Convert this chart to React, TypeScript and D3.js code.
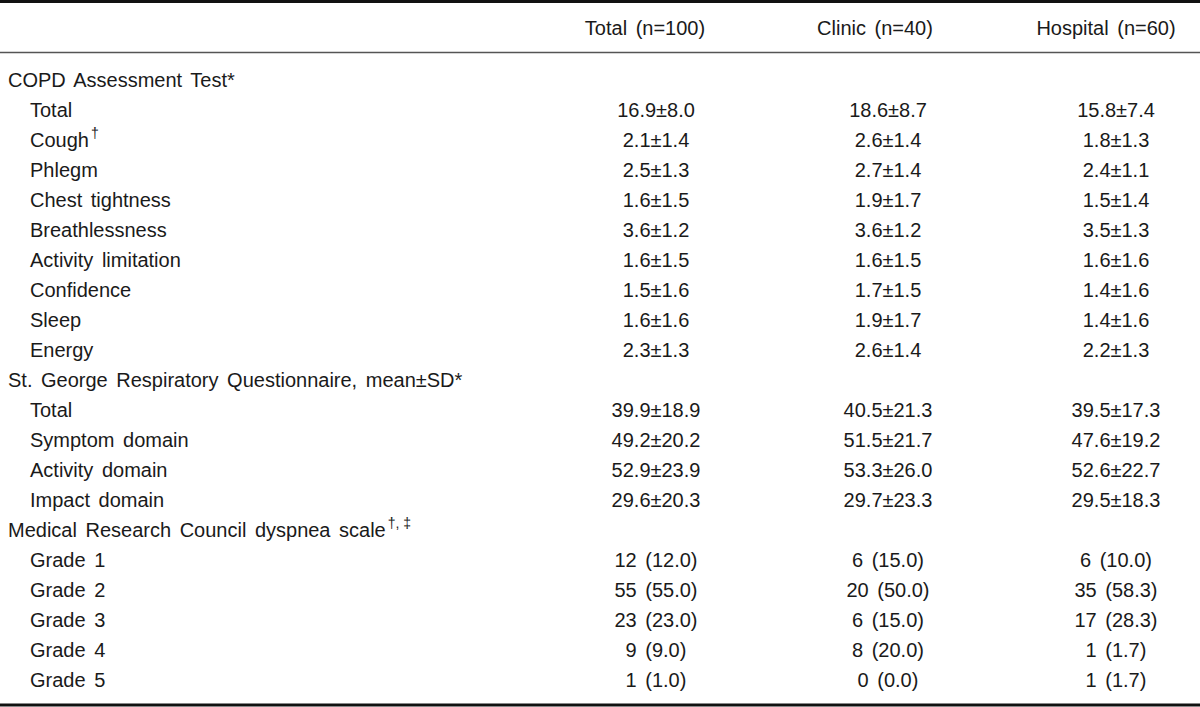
import { useEffect } from 'react';
import * as d3 from 'd3';

// column headers
const columns = ['Total (n=100)', 'Clinic (n=40)', 'Hospital (n=60)'];

// row labels, indentation level (0 = section, 1 = item) and superscript marks
const rowLabels = [
  'COPD Assessment Test*', 'Total', 'Cough', 'Phlegm', 'Chest tightness', 'Breathlessness',
  'Activity limitation', 'Confidence', 'Sleep', 'Energy',
  'St. George Respiratory Questionnaire, mean\u00B1SD*', 'Total', 'Symptom domain',
  'Activity domain', 'Impact domain',
  'Medical Research Council dyspnea scale', 'Grade 1', 'Grade 2', 'Grade 3', 'Grade 4', 'Grade 5',
];
const rowLevels = [0, 1, 1, 1, 1, 1, 1, 1, 1, 1, 0, 1, 1, 1, 1, 0, 1, 1, 1, 1, 1];
const rowMarks = ['', '', '\u2020', '', '', '', '', '', '', '', '', '', '', '', '', '\u2020, \u2021', '', '', '', '', ''];

const totalValues = [
  '', '16.9\u00B18.0', '2.1\u00B11.4', '2.5\u00B11.3', '1.6\u00B11.5', '3.6\u00B11.2', '1.6\u00B11.5',
  '1.5\u00B11.6', '1.6\u00B11.6', '2.3\u00B11.3',
  '', '39.9\u00B118.9', '49.2\u00B120.2', '52.9\u00B123.9', '29.6\u00B120.3',
  '', '12 (12.0)', '55 (55.0)', '23 (23.0)', '9 (9.0)', '1 (1.0)',
];
const clinicValues = [
  '', '18.6\u00B18.7', '2.6\u00B11.4', '2.7\u00B11.4', '1.9\u00B11.7', '3.6\u00B11.2', '1.6\u00B11.5',
  '1.7\u00B11.5', '1.9\u00B11.7', '2.6\u00B11.4',
  '', '40.5\u00B121.3', '51.5\u00B121.7', '53.3\u00B126.0', '29.7\u00B123.3',
  '', '6 (15.0)', '20 (50.0)', '6 (15.0)', '8 (20.0)', '0 (0.0)',
];
const hospitalValues = [
  '', '15.8\u00B17.4', '1.8\u00B11.3', '2.4\u00B11.1', '1.5\u00B11.4', '3.5\u00B11.3', '1.6\u00B11.6',
  '1.4\u00B11.6', '1.4\u00B11.6', '2.2\u00B11.3',
  '', '39.5\u00B117.3', '47.6\u00B119.2', '52.6\u00B122.7', '29.5\u00B118.3',
  '', '6 (10.0)', '35 (58.3)', '17 (28.3)', '1 (1.7)', '1 (1.7)',
];

const W = 1200;
const H = 707;
const FONT = '"Liberation Sans", Arial, sans-serif';

export default function App() {
  useEffect(() => {
    document.body.style.margin = '0';
  }, []);

  // baseline of each body row
  const y = d3.scaleLinear().domain([0, rowLabels.length - 1]).range([87, 687]);
  // horizontal centre of each data column (header and body)
  const headX = d3.scaleOrdinal<number, number>().domain([0, 1, 2]).range([645, 875, 1106]);
  const cellX = d3.scaleOrdinal<number, number>().domain([0, 1, 2]).range([656, 888, 1116]);
  const indent = d3.scaleOrdinal<number, number>().domain([0, 1]).range([8, 30]);

  const valueCols = [totalValues, clinicValues, hospitalValues];
  const textColor = '#1a1a1a';

  return (
    <svg width={W} height={H} style={{ display: 'block', background: '#fff' }}
      fontFamily={FONT} fontSize={20} fill={textColor} wordSpacing={3}>
      <line x1={0} x2={W} y1={1.5} y2={1.5} stroke="#111" strokeWidth={3} />
      <line x1={0} x2={W} y1={52.5} y2={52.5} stroke="#555" strokeWidth={1.5} />
      <line x1={0} x2={W} y1={705} y2={705} stroke="#111" strokeWidth={3} />

      {columns.map((c, i) => (
        <text key={c} x={headX(i)} y={35} textAnchor="middle">{c}</text>
      ))}

      {rowLabels.map((label, i) => (
        <text key={`l${i}`} x={indent(rowLevels[i])} y={y(i)}>
          {label}
          {rowMarks[i] && (
            <tspan dx={2} dy={-9} fontSize={14} wordSpacing={0}>{rowMarks[i]}</tspan>
          )}
        </text>
      ))}

      {valueCols.map((vals, c) =>
        vals.map((v, i) => v && (
          <text key={`v${c}-${i}`} x={cellX(c)} y={y(i)} textAnchor="middle">{v}</text>
        ))
      )}
    </svg>
  );
}
